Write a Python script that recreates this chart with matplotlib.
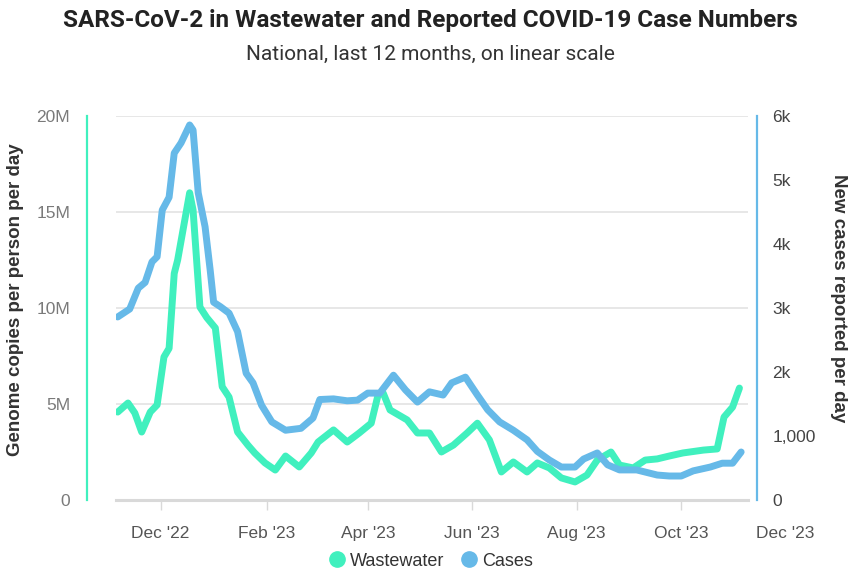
import pandas as pd
import matplotlib.pyplot as plt
import matplotlib.dates as mdates
import matplotlib.transforms as mtransforms
from matplotlib.lines import Line2D
from matplotlib.ticker import FixedLocator, FixedFormatter

# wastewater signal (genome copies per person per day, millions)
ww_dates = ['2022-11-06', '2022-11-12', '2022-11-16', '2022-11-20', '2022-11-25', '2022-11-29',
            '2022-12-03', '2022-12-06', '2022-12-09', '2022-12-11', '2022-12-18', '2022-12-20',
            '2022-12-24', '2022-12-28', '2023-01-02', '2023-01-06', '2023-01-10', '2023-01-15',
            '2023-01-21', '2023-01-25', '2023-01-31', '2023-02-06', '2023-02-12', '2023-02-20',
            '2023-02-27', '2023-03-03', '2023-03-12', '2023-03-20', '2023-03-27', '2023-04-03',
            '2023-04-07', '2023-04-10', '2023-04-14', '2023-04-24', '2023-04-30', '2023-05-07',
            '2023-05-14', '2023-05-21', '2023-05-29', '2023-06-04', '2023-06-11', '2023-06-18',
            '2023-06-25', '2023-07-03', '2023-07-09', '2023-07-16', '2023-07-23', '2023-07-31',
            '2023-08-07', '2023-08-13', '2023-08-21', '2023-08-26', '2023-09-03', '2023-09-10',
            '2023-09-17', '2023-09-24', '2023-10-02', '2023-10-14', '2023-10-22', '2023-10-26',
            '2023-10-31', '2023-11-04']
ww_values = [4.58, 5.05, 4.53, 3.54, 4.58, 4.95,
             7.45, 7.9, 11.8, 12.5, 16.0, 15.1,
             10.05, 9.5, 8.96, 5.9, 5.36, 3.54,
             2.86, 2.45, 1.93, 1.56, 2.29, 1.72,
             2.45, 3.02, 3.65, 3.02, 3.49, 4.0,
             5.47, 5.57, 4.69, 4.17, 3.49, 3.49,
             2.5, 2.86, 3.49, 4.0, 3.13, 1.46,
             1.98, 1.46, 1.93, 1.67, 1.15, 0.94,
             1.3, 2.08, 2.5, 1.82, 1.67, 2.08,
             2.14, 2.29, 2.45, 2.6, 2.66, 4.32,
             4.84, 5.83]

# reported cases per day
case_dates = ['2022-11-06', '2022-11-13', '2022-11-18', '2022-11-22', '2022-11-26', '2022-11-29',
              '2022-12-02', '2022-12-06', '2022-12-09', '2022-12-13', '2022-12-18', '2022-12-20',
              '2022-12-23', '2022-12-27', '2022-12-30', '2023-01-01', '2023-01-05', '2023-01-10',
              '2023-01-15', '2023-01-20', '2023-01-24', '2023-01-29', '2023-02-04', '2023-02-12',
              '2023-02-21', '2023-02-28', '2023-03-04', '2023-03-12', '2023-03-20', '2023-03-26',
              '2023-04-01', '2023-04-08', '2023-04-16', '2023-04-23', '2023-04-30', '2023-05-07',
              '2023-05-15', '2023-05-20', '2023-05-28', '2023-06-04', '2023-06-10', '2023-06-17',
              '2023-06-25', '2023-07-03', '2023-07-09', '2023-07-16', '2023-07-23', '2023-07-31',
              '2023-08-05', '2023-08-13', '2023-08-19', '2023-08-26', '2023-09-05', '2023-09-17',
              '2023-09-24', '2023-10-01', '2023-10-08', '2023-10-18', '2023-10-25', '2023-10-31',
              '2023-11-05']
case_values = [2860, 2984, 3310, 3400, 3720, 3800,
               4530, 4730, 5420, 5580, 5860, 5780,
               4800, 4270, 3590, 3090, 3020, 2920,
               2630, 1980, 1830, 1480, 1220, 1090,
               1120, 1280, 1570, 1580, 1550, 1560,
               1670, 1670, 1950, 1720, 1530, 1690,
               1640, 1830, 1920, 1640, 1410, 1220,
               1090, 940, 760, 625, 515, 515,
               640, 735, 550, 470, 470, 390,
               375, 375, 455, 515, 575, 575,
               750]

month_ticks = ['2022-12-01', '2023-02-01', '2023-04-01', '2023-06-01', '2023-08-01', '2023-10-01']
month_labels = ["Dec '22", "Feb '23", "Apr '23", "Jun '23", "Aug '23", "Oct '23"]
extra_tick, extra_label = '2023-12-01', "Dec '23"

left_ticks = [0, 5, 10, 15, 20]
left_labels = ['0', '5M', '10M', '15M', '20M']
right_ticks = [0, 1000, 2000, 3000, 4000, 5000, 6000]
right_labels = ['0', '1,000', '2k', '3k', '4k', '5k', '6k']

green = '#40f0be'
blue = '#66b9e8'

plt.rcParams['font.family'] = ['Liberation Sans', 'DejaVu Sans']

fig = plt.figure(figsize=(8.49, 5.74), dpi=100)
W, H = 849, 574
ax = fig.add_axes([116 / W, 1 - 500 / H, (748 - 116) / W, (500 - 116) / H])
ax2 = ax.twinx()

ax.plot(pd.to_datetime(ww_dates), ww_values, color=green, lw=5,
        solid_joinstyle='round', solid_capstyle='round', zorder=3)
ax2.plot(pd.to_datetime(case_dates), case_values, color=blue, lw=5,
         solid_joinstyle='round', solid_capstyle='round', zorder=3)

ax.set_xlim(pd.Timestamp('2022-11-05'), pd.Timestamp('2023-11-09'))
ax.set_ylim(0, 20)
ax2.set_ylim(0, 6000)

# gridlines from the left axis
ax.yaxis.set_major_locator(FixedLocator(left_ticks))
ax.yaxis.set_major_formatter(FixedFormatter(left_labels))
ax.grid(axis='y', color='#e3e3e3', lw=1.2)
ax.set_axisbelow(True)
ax2.yaxis.set_major_locator(FixedLocator(right_ticks))
ax2.yaxis.set_major_formatter(FixedFormatter(right_labels))

ax.xaxis.set_major_locator(FixedLocator(mdates.date2num(pd.to_datetime(month_ticks))))
ax.xaxis.set_major_formatter(FixedFormatter(month_labels))

for a in (ax, ax2):
    for s in a.spines.values():
        s.set_visible(False)
ax.spines['left'].set_visible(True)
ax.spines['left'].set_position(('outward', 21))
ax.spines['left'].set_color(green)
ax.spines['left'].set_linewidth(1.6)
ax.spines['bottom'].set_visible(True)
ax.spines['bottom'].set_color('#d9d9d9')
ax.spines['bottom'].set_linewidth(2.2)
ax2.spines['right'].set_visible(True)
ax2.spines['right'].set_position(('outward', 6.5))
ax2.spines['right'].set_color(blue)
ax2.spines['right'].set_linewidth(1.6)

ax.tick_params(axis='y', length=0, pad=12, labelsize=12.5, labelcolor='#7a7a7a')
ax2.tick_params(axis='y', length=0, pad=11, labelsize=12.5, labelcolor='#444444')
ax.tick_params(axis='x', length=7, width=1, color='#d9d9d9', pad=12, labelsize=12.5,
               labelcolor='#555555')

# last month label sits past the end of the axis
trans = mtransforms.blended_transform_factory(ax.transData, ax.transAxes)
ax.text(mdates.date2num(pd.Timestamp(extra_tick)), -0.088, extra_label, transform=trans,
        ha='center', va='center', fontsize=12.5, color='#555555', clip_on=False)

fig.text(16 / W, 1 - 300 / H, 'Genome copies per person per day', rotation=90, ha='center',
         va='center', fontsize=13.5, fontweight='bold', color='#333333')
fig.text(839 / W, 1 - 298 / H, 'New cases reported per day', rotation=270, ha='center',
         va='center', fontsize=13.5, fontweight='bold', color='#333333')

fig.text(0.507, 1 - 20 / H, 'SARS-CoV-2 in Wastewater and Reported COVID-19 Case Numbers',
         ha='center', va='center', fontsize=17.5, fontweight='bold', family='Roboto', color='#222222')
fig.text(0.507, 1 - 54 / H, 'National, last 12 months, on linear scale',
         ha='center', va='center', fontsize=15, family='Roboto', color='#333333')

handles = [Line2D([], [], ls='none', marker='o', ms=11, color=green),
           Line2D([], [], ls='none', marker='o', ms=11, color=blue)]
fig.legend(handles, ['Wastewater', 'Cases'], loc='center', bbox_to_anchor=(0.508, 1 - 561 / H),
           ncol=2, frameon=False, fontsize=13, handlelength=0.8, handletextpad=0.3,
           columnspacing=1.0, labelcolor='#333333')

fig.savefig('out.png', dpi=100)
